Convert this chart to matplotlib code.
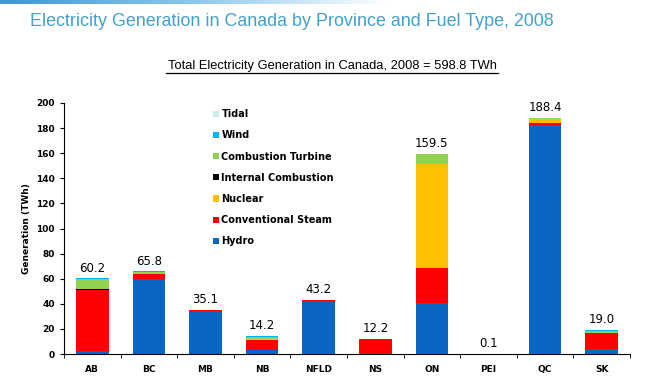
import numpy as np
import matplotlib.pyplot as plt
from matplotlib.colors import LinearSegmentedColormap

# 省份与各燃料类型发电量 (TWh)
provinces = ["AB", "BC", "MB", "NB", "NFLD", "NS", "ON", "PEI", "QC", "SK"]
hydro = [2.4, 59.5, 34.5, 3.5, 42.0, 0.0, 40.4, 0.0, 182.5, 4.0]
conv_steam = [48.4, 3.9, 0.4, 7.8, 1.0, 11.9, 28.0, 0.0, 1.5, 12.8]
nuclear = [0.0, 0.0, 0.0, 0.8, 0.0, 0.0, 82.7, 0.0, 3.5, 0.0]
internal_comb = [0.6, 0.3, 0.1, 0.2, 0.2, 0.0, 0.5, 0.0, 0.0, 0.3]
comb_turbine = [8.3, 1.8, 0.0, 1.6, 0.0, 0.1, 7.4, 0.0, 0.3, 1.4]
wind = [0.5, 0.3, 0.1, 0.3, 0.0, 0.2, 0.5, 0.1, 0.6, 0.5]
tidal = [0.0, 0.0, 0.0, 0.0, 0.0, 0.0, 0.0, 0.0, 0.0, 0.0]
totals = [60.2, 65.8, 35.1, 14.2, 43.2, 12.2, 159.5, 0.1, 188.4, 19.0]

series = [
    ("Hydro", hydro, "#0A66C2"),
    ("Conventional Steam", conv_steam, "#FF0000"),
    ("Nuclear", nuclear, "#FFC000"),
    ("Internal Combustion", internal_comb, "#000000"),
    ("Combustion Turbine", comb_turbine, "#92D050"),
    ("Wind", wind, "#00B0F0"),
    ("Tidal", tidal, "#CDEBEE"),
]

fig = plt.figure(figsize=(6.48, 3.81), dpi=100)

# 顶部渐变条
bar_ax = fig.add_axes([0, 1 - 4 / 381, 0.6, 4 / 381])
cmap = LinearSegmentedColormap.from_list("g", ["#3A98D6", "#8CC8EE", "#FFFFFF"])
bar_ax.imshow(np.linspace(0, 1, 256)[None, :], aspect="auto", cmap=cmap)
bar_ax.axis("off")

fig.text(0.046, 1 - 22 / 381, "Electricity Generation in Canada by Province and Fuel Type, 2008",
         color="#45A0CC", fontsize=12.9, va="center", ha="left", family="Liberation Sans")
fig.text(332 / 648, 1 - 66 / 381, "Total Electricity Generation in Canada, 2008 = 598.8 TWh",
         fontsize=9.3, va="center", ha="center", family="Liberation Sans")
fig.add_artist(plt.Line2D([166 / 648, 498 / 648], [1 - 72.5 / 381, 1 - 72.5 / 381], color="black", lw=0.9))

ax = fig.add_axes([64 / 648, 1 - 354 / 381, 566 / 648, 251 / 381])
x = np.arange(len(provinces))
bottom = np.zeros(len(provinces))
for name, vals, color in series:
    ax.bar(x, vals, width=0.575, bottom=bottom, color=color, label=name)
    bottom += np.array(vals)

for i, t in enumerate(totals):
    ax.text(i, max(bottom[i], t) + 3, f"{t:.1f}", ha="center", va="bottom", fontsize=8.5)

ax.set_xlim(-0.5, 9.5)
ax.set_ylim(0, 200)
ax.set_yticks(range(0, 201, 20))
ax.set_xticks(x)
ax.set_xticklabels(provinces, fontweight="bold", fontsize=6.5)
ax.set_xticks(np.arange(-0.5, 10, 1), minor=True)
ax.tick_params(axis="x", which="major", length=0, pad=8)
ax.tick_params(axis="x", which="minor", length=3, direction="out")
ax.tick_params(axis="y", labelsize=6.5, length=3)
for lbl in ax.get_yticklabels():
    lbl.set_fontweight("bold")
ax.spines["top"].set_visible(False)
ax.spines["right"].set_visible(False)
ax.set_ylabel("Generation (TWh)", fontsize=6.5, fontweight="bold", labelpad=4)

handles, labels = ax.get_legend_handles_labels()
leg = ax.legend(handles[::-1], labels[::-1], loc="upper left", bbox_to_anchor=(0.248, 1.01),
                frameon=False, fontsize=7, handlelength=0.6, handleheight=0.6,
                handletextpad=0.25, labelspacing=1.15)
for t in leg.get_texts():
    t.set_fontweight("bold")

fig.savefig("out.png", dpi=100)
